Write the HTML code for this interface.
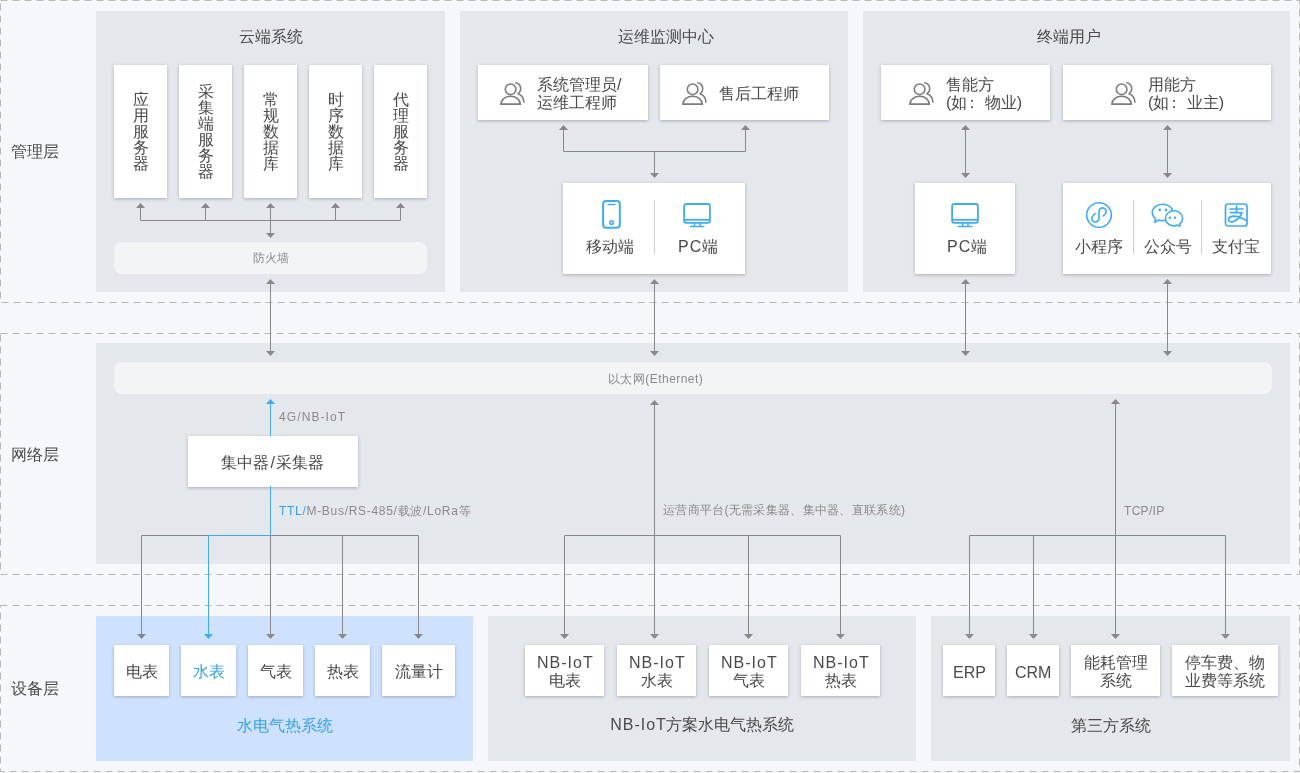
<!DOCTYPE html>
<html><head><meta charset="utf-8">
<style>
*{margin:0;padding:0;box-sizing:border-box}
html,body{width:1300px;height:773px;overflow:hidden;background:#f5f7fa}
body{position:relative;-webkit-font-smoothing:antialiased;font-family:"Liberation Sans",sans-serif;color:#4a4a4a}
.a{position:absolute}
.p{position:absolute;background:#e4e7eb}
.c{position:absolute;background:#fff;box-shadow:0 1px 3px rgba(70,80,120,0.38)}
.t{will-change:transform;position:absolute;font-size:16px;line-height:16px;white-space:nowrap;text-align:center}
.s{will-change:transform;position:absolute;font-size:12px;line-height:12px;white-space:nowrap;color:#8a8a8a}
.bar{position:absolute;background:#f2f4f6;border-radius:8px}
.ctr{display:flex;align-items:center;justify-content:center;text-align:center}
.v{will-change:transform;font-size:16px;line-height:16px;width:16px;position:relative;top:0px}
.h2{font-size:16px;line-height:18px;text-align:left}
.l{letter-spacing:1px;margin-right:-1px}
.dv{position:absolute;width:1px;background:#cfcfcf}
</style></head><body>
<!-- panels -->
<div class="p" style="left:96px;top:11px;width:349px;height:281px"></div>
<div class="p" style="left:460px;top:11px;width:388px;height:281px"></div>
<div class="p" style="left:863px;top:11px;width:427px;height:281px"></div>
<div class="p" style="left:96px;top:343px;width:1194px;height:221px"></div>
<div class="p" style="left:96px;top:616px;width:377px;height:145px;background:#cee2fd"></div>
<div class="p" style="left:488px;top:616px;width:428px;height:145px"></div>
<div class="p" style="left:931px;top:616px;width:359px;height:145px"></div>

<!-- layer labels -->
<div class="t" style="left:10px;top:144px;width:50px">管理层</div>
<div class="t" style="left:10px;top:447px;width:50px">网络层</div>
<div class="t" style="left:10px;top:681px;width:50px">设备层</div>

<!-- titles -->
<div class="t" style="left:231px;top:29px;width:80px">云端系统</div>
<div class="t" style="left:606px;top:29px;width:120px">运维监测中心</div>
<div class="t" style="left:1029px;top:29px;width:80px">终端用户</div>

<!-- cloud cards -->
<div class="c ctr" style="left:114px;top:65px;width:53px;height:133px"><div class="v">应用服务器</div></div>
<div class="c ctr" style="left:179px;top:65px;width:53px;height:133px"><div class="v">采集端服务器</div></div>
<div class="c ctr" style="left:244px;top:65px;width:53px;height:133px"><div class="v">常规数据库</div></div>
<div class="c ctr" style="left:309px;top:65px;width:53px;height:133px"><div class="v">时序数据库</div></div>
<div class="c ctr" style="left:374px;top:65px;width:53px;height:133px"><div class="v">代理服务器</div></div>
<div class="bar ctr" style="left:114px;top:242px;width:313px;height:32px"><span class="s" style="position:static">防火墙</span></div>

<!-- ops cards -->
<div class="c" style="left:478px;top:65px;width:170px;height:55px"></div>
<div class="c" style="left:660px;top:65px;width:169px;height:55px"></div>
<svg width="36" height="34" viewBox="0 0 36 34" style="position:absolute;left:494px;top:76px" fill="none" stroke="#7c7c7c" stroke-width="1.6">
<circle cx="16.6" cy="13.3" r="5.3"/>
<path d="M6.9 28.1 A9.7 7.8 0 0 1 26.3 28.1 Z"/>
<path d="M21.2 6.7 A5.9 5.9 0 0 1 23.7 17.7"/>
<path d="M23.7 17.8 Q29.6 19.2 29.9 26.6"/>
</svg>
<div class="t h2" style="left:537px;top:76px">系统管理员/<br>运维工程师</div>
<svg width="36" height="34" viewBox="0 0 36 34" style="position:absolute;left:676px;top:76px" fill="none" stroke="#7c7c7c" stroke-width="1.6">
<circle cx="16.6" cy="13.3" r="5.3"/>
<path d="M6.9 28.1 A9.7 7.8 0 0 1 26.3 28.1 Z"/>
<path d="M21.2 6.7 A5.9 5.9 0 0 1 23.7 17.7"/>
<path d="M23.7 17.8 Q29.6 19.2 29.9 26.6"/>
</svg>
<div class="t" style="left:719px;top:86px">售后工程师</div>
<div class="c" style="left:563px;top:183px;width:182px;height:91px"></div>
<div class="dv" style="left:654px;top:200px;height:54px"></div>
<svg width="32" height="38" viewBox="0 0 32 38" style="position:absolute;left:596px;top:196px" fill="none" stroke="#40abf2" stroke-width="2">
<rect x="7.1" y="4.9" width="16.7" height="26.8" rx="3"/>
<line x1="12.2" y1="8.5" x2="18.8" y2="8.5" stroke-width="1.5" stroke-linecap="round"/>
<circle cx="15.5" cy="26.5" r="1.8" stroke-width="1.5"/>
</svg>
<svg width="38" height="34" viewBox="0 0 38 34" style="position:absolute;left:678px;top:198px" fill="none" stroke="#40abf2" stroke-width="1.8">
<rect x="6.1" y="6" width="25.8" height="18.8" rx="2"/>
<line x1="6.1" y1="21.8" x2="31.9" y2="21.8"/>
<line x1="16.5" y1="24.8" x2="16.5" y2="28.3" stroke-width="1.5"/>
<line x1="22" y1="24.8" x2="22" y2="28.3" stroke-width="1.5"/>
<line x1="12.3" y1="28.5" x2="25.8" y2="28.5" stroke-width="1.5" stroke-linecap="round"/>
</svg>
<div class="t" style="left:586px;top:239px">移动端</div>
<div class="t" style="left:678px;top:239px"><span style="letter-spacing:1px">PC</span>端</div>

<!-- end users -->
<div class="c" style="left:881px;top:65px;width:169px;height:55px"></div>
<div class="c" style="left:1063px;top:65px;width:208px;height:55px"></div>
<svg width="36" height="34" viewBox="0 0 36 34" style="position:absolute;left:903px;top:76px" fill="none" stroke="#7c7c7c" stroke-width="1.6">
<circle cx="16.6" cy="13.3" r="5.3"/>
<path d="M6.9 28.1 A9.7 7.8 0 0 1 26.3 28.1 Z"/>
<path d="M21.2 6.7 A5.9 5.9 0 0 1 23.7 17.7"/>
<path d="M23.7 17.8 Q29.6 19.2 29.9 26.6"/>
</svg>
<div class="t h2" style="left:946px;top:76px">售能方<br>(如<span style="position:relative;left:-3px;margin-right:1.5px">：</span>物业)</div>
<svg width="36" height="34" viewBox="0 0 36 34" style="position:absolute;left:1105px;top:76px" fill="none" stroke="#7c7c7c" stroke-width="1.6">
<circle cx="16.6" cy="13.3" r="5.3"/>
<path d="M6.9 28.1 A9.7 7.8 0 0 1 26.3 28.1 Z"/>
<path d="M21.2 6.7 A5.9 5.9 0 0 1 23.7 17.7"/>
<path d="M23.7 17.8 Q29.6 19.2 29.9 26.6"/>
</svg>
<div class="t h2" style="left:1148px;top:76px">用能方<br>(如<span style="position:relative;left:-3px;margin-right:1.5px">：</span>业主)</div>
<div class="c" style="left:915px;top:183px;width:100px;height:91px"></div>
<svg width="38" height="34" viewBox="0 0 38 34" style="position:absolute;left:946px;top:198px" fill="none" stroke="#40abf2" stroke-width="1.8">
<rect x="6.1" y="6" width="25.8" height="18.8" rx="2"/>
<line x1="6.1" y1="21.8" x2="31.9" y2="21.8"/>
<line x1="16.5" y1="24.8" x2="16.5" y2="28.3" stroke-width="1.5"/>
<line x1="22" y1="24.8" x2="22" y2="28.3" stroke-width="1.5"/>
<line x1="12.3" y1="28.5" x2="25.8" y2="28.5" stroke-width="1.5" stroke-linecap="round"/>
</svg>
<div class="t" style="left:947px;top:239px"><span style="letter-spacing:1px">PC</span>端</div>
<div class="c" style="left:1063px;top:183px;width:208px;height:91px"></div>
<div class="dv" style="left:1133px;top:200px;height:54px"></div>
<div class="dv" style="left:1201px;top:200px;height:54px"></div>
<svg width="34" height="34" viewBox="0 0 34 34" style="position:absolute;left:1082px;top:198px" fill="none" stroke="#40abf2" stroke-width="1.6" stroke-linecap="round">
<circle cx="17" cy="17" r="12.3"/>
<path d="M13 15.6 L10.9 17.8 A3.6 3.6 0 1 0 17 20.6 V13.4 A3.6 3.6 0 1 1 23.2 16 L21.1 18"/>
</svg>
<svg width="38" height="34" viewBox="0 0 38 34" style="position:absolute;left:1148px;top:198px" fill="none" stroke="#40abf2" stroke-width="1.6" stroke-linejoin="round">
<path d="M24.6 12.9 C23.6 8.8 19.4 6.2 14.5 6.2 C8.9 6.2 4.3 9.9 4.3 14.4 C4.3 16.9 5.6 19.1 7.8 20.6 L6.6 24.2 L10.9 22 C12 22.4 13.3 22.6 14.5 22.6 C15.6 22.6 16.6 22.5 17.6 22.2"/>
<path d="M26 12.8 C30.8 12.8 34.6 16.2 34.6 20.4 C34.6 22.6 33.6 24.5 31.9 25.9 L31.9 28.2 L29.5 27.1 C28.4 27.5 27.2 27.9 26 27.9 C21.2 27.9 17.4 24.5 17.4 20.4 C17.4 16.2 21.2 12.8 26 12.8 Z"/>
<circle cx="11.7" cy="11.9" r="1.4" fill="#40abf2" stroke="none"/>
<circle cx="18" cy="11.9" r="1.4" fill="#40abf2" stroke="none"/>
<circle cx="21.8" cy="19.8" r="1.25" fill="#40abf2" stroke="none"/>
<circle cx="27" cy="19.8" r="1.25" fill="#40abf2" stroke="none"/>
</svg>
<svg width="36" height="34" viewBox="0 0 36 34" style="position:absolute;left:1218px;top:198px" fill="none" stroke="#40abf2" stroke-width="1.7" stroke-linecap="round">
<rect x="7.5" y="6" width="21.5" height="22" rx="2.5"/>
<line x1="18.5" y1="8" x2="18.5" y2="14.6"/>
<line x1="12" y1="11" x2="25" y2="11"/>
<line x1="12.4" y1="14.6" x2="24" y2="14.6"/>
<path d="M24 14.6 Q21.5 21.5 15 23.6 Q10.6 24.6 10.6 21.6 Q10.8 18.2 16 18.2 Q21 18.4 29 22.8" stroke-linecap="butt"/>
</svg>
<div class="t" style="left:1075px;top:239px">小程序</div>
<div class="t" style="left:1144px;top:239px">公众号</div>
<div class="t" style="left:1212px;top:239px">支付宝</div>

<!-- network -->
<div class="bar ctr" style="left:114px;top:362px;width:1158px;height:32px"></div>
<div class="s" style="left:608px;top:373px;letter-spacing:0.45px">以太网(Ethernet)</div>
<div class="s" style="left:279px;top:411px;letter-spacing:1.1px">4G/NB-IoT</div>
<div class="c ctr" style="left:188px;top:436px;width:170px;height:51px"><span class="t" style="position:relative;top:1px">集中器<span style="margin:0 1.5px">/</span>采集器</span></div>
<div class="s" style="left:279px;top:505px;letter-spacing:0.7px"><span style="color:#33a2ee">TTL/</span>M-Bus/RS-485/载波/LoRa等</div>
<div class="s" style="left:663px;top:504px;letter-spacing:0.3px">运营商平台(无需采集器、集中器、直联系统)</div>
<div class="s" style="left:1124px;top:505px;letter-spacing:0.3px">TCP/IP</div>

<!-- devices -->
<div class="c ctr" style="left:114px;top:645px;width:55px;height:51px"><span class="t" style="position:relative;top:1px">电表</span></div>
<div class="c ctr" style="left:181px;top:645px;width:55px;height:51px"><span class="t" style="position:relative;top:1px;color:#33a2ee">水表</span></div>
<div class="c ctr" style="left:248px;top:645px;width:55px;height:51px"><span class="t" style="position:relative;top:1px">气表</span></div>
<div class="c ctr" style="left:315px;top:645px;width:55px;height:51px"><span class="t" style="position:relative;top:1px">热表</span></div>
<div class="c ctr" style="left:382px;top:645px;width:73px;height:51px"><span class="t" style="position:relative;top:1px">流量计</span></div>
<div class="t" style="left:185px;top:718px;width:200px;color:#33a2ee">水电气热系统</div>

<div class="c ctr" style="left:525px;top:645px;width:79px;height:51px"><span class="t" style="position:relative;top:1px;line-height:18px"><span class="l">NB-IoT</span><br>电表</span></div>
<div class="c ctr" style="left:617px;top:645px;width:79px;height:51px"><span class="t" style="position:relative;top:1px;line-height:18px"><span class="l">NB-IoT</span><br>水表</span></div>
<div class="c ctr" style="left:709px;top:645px;width:79px;height:51px"><span class="t" style="position:relative;top:1px;line-height:18px"><span class="l">NB-IoT</span><br>气表</span></div>
<div class="c ctr" style="left:801px;top:645px;width:79px;height:51px"><span class="t" style="position:relative;top:1px;line-height:18px"><span class="l">NB-IoT</span><br>热表</span></div>
<div class="t" style="left:582px;top:717px;width:240px"><span class="l">NB-IoT</span>方案水电气热系统</div>

<div class="c ctr" style="left:943px;top:645px;width:52px;height:51px"><span class="t" style="position:relative;top:2px">ERP</span></div>
<div class="c ctr" style="left:1007px;top:645px;width:52px;height:51px"><span class="t" style="position:relative;top:2px">CRM</span></div>
<div class="c ctr" style="left:1071px;top:645px;width:89px;height:51px"><span class="t" style="position:relative;top:1px;line-height:18px">能耗管理<br>系统</span></div>
<div class="c ctr" style="left:1172px;top:645px;width:106px;height:51px"><span class="t" style="position:relative;top:1px;line-height:18px">停车费、物<br>业费等系统</span></div>
<div class="t" style="left:1011px;top:718px;width:200px">第三方系统</div>

<svg class="a" style="left:0;top:0" width="1300" height="773" viewBox="0 0 1300 773">
<rect x="0.5" y="0.5" width="1299" height="302" fill="none" stroke="#b8b8b8" stroke-width="1" stroke-dasharray="7 5"/>
<rect x="0.5" y="333.5" width="1299" height="241" fill="none" stroke="#b8b8b8" stroke-width="1" stroke-dasharray="7 5"/>
<rect x="0.5" y="605.5" width="1299" height="166" fill="none" stroke="#b8b8b8" stroke-width="1" stroke-dasharray="7 5"/>
<line x1="140.5" y1="207" x2="140.5" y2="220.5" stroke="#888888" stroke-width="1"/>
<polygon points="140.5,203 136.0,208 145.0,208" fill="#888888"/>
<line x1="205.5" y1="207" x2="205.5" y2="220.5" stroke="#888888" stroke-width="1"/>
<polygon points="205.5,203 201.0,208 210.0,208" fill="#888888"/>
<line x1="270.5" y1="207" x2="270.5" y2="220.5" stroke="#888888" stroke-width="1"/>
<polygon points="270.5,203 266.0,208 275.0,208" fill="#888888"/>
<line x1="335.5" y1="207" x2="335.5" y2="220.5" stroke="#888888" stroke-width="1"/>
<polygon points="335.5,203 331.0,208 340.0,208" fill="#888888"/>
<line x1="400.5" y1="207" x2="400.5" y2="220.5" stroke="#888888" stroke-width="1"/>
<polygon points="400.5,203 396.0,208 405.0,208" fill="#888888"/>
<line x1="140.5" y1="220.5" x2="400.5" y2="220.5" stroke="#888888" stroke-width="1"/>
<line x1="270.5" y1="220.5" x2="270.5" y2="234" stroke="#888888" stroke-width="1"/>
<polygon points="270.5,238 266.0,233 275.0,233" fill="#888888"/>
<line x1="270.5" y1="283" x2="270.5" y2="352" stroke="#888888" stroke-width="1"/>
<polygon points="270.5,279 266.0,284 275.0,284" fill="#888888"/>
<polygon points="270.5,356 266.0,351 275.0,351" fill="#888888"/>
<line x1="563.5" y1="129" x2="563.5" y2="151.5" stroke="#888888" stroke-width="1"/>
<polygon points="563.5,125 559.0,130 568.0,130" fill="#888888"/>
<line x1="745.5" y1="129" x2="745.5" y2="151.5" stroke="#888888" stroke-width="1"/>
<polygon points="745.5,125 741.0,130 750.0,130" fill="#888888"/>
<line x1="563.5" y1="151.5" x2="745.5" y2="151.5" stroke="#888888" stroke-width="1"/>
<line x1="654.5" y1="151.5" x2="654.5" y2="174" stroke="#888888" stroke-width="1"/>
<polygon points="654.5,178 650.0,173 659.0,173" fill="#888888"/>
<line x1="654.5" y1="283" x2="654.5" y2="352" stroke="#888888" stroke-width="1"/>
<polygon points="654.5,279 650.0,284 659.0,284" fill="#888888"/>
<polygon points="654.5,356 650.0,351 659.0,351" fill="#888888"/>
<line x1="965.5" y1="129" x2="965.5" y2="174" stroke="#888888" stroke-width="1"/>
<polygon points="965.5,125 961.0,130 970.0,130" fill="#888888"/>
<polygon points="965.5,178 961.0,173 970.0,173" fill="#888888"/>
<line x1="1167.5" y1="129" x2="1167.5" y2="174" stroke="#888888" stroke-width="1"/>
<polygon points="1167.5,125 1163.0,130 1172.0,130" fill="#888888"/>
<polygon points="1167.5,178 1163.0,173 1172.0,173" fill="#888888"/>
<line x1="965.5" y1="283" x2="965.5" y2="352" stroke="#888888" stroke-width="1"/>
<polygon points="965.5,279 961.0,284 970.0,284" fill="#888888"/>
<polygon points="965.5,356 961.0,351 970.0,351" fill="#888888"/>
<line x1="1167.5" y1="283" x2="1167.5" y2="352" stroke="#888888" stroke-width="1"/>
<polygon points="1167.5,279 1163.0,284 1172.0,284" fill="#888888"/>
<polygon points="1167.5,356 1163.0,351 1172.0,351" fill="#888888"/>
<line x1="270.5" y1="403" x2="270.5" y2="436" stroke="#40abf2" stroke-width="1"/>
<polygon points="270.5,399 266.0,404 275.0,404" fill="#40abf2"/>
<line x1="270.5" y1="486" x2="270.5" y2="535.5" stroke="#40abf2" stroke-width="1"/>
<line x1="208.5" y1="535.5" x2="270.5" y2="535.5" stroke="#40abf2" stroke-width="1"/>
<line x1="141.5" y1="535.5" x2="208.5" y2="535.5" stroke="#888888" stroke-width="1"/>
<line x1="270.5" y1="535.5" x2="418.5" y2="535.5" stroke="#888888" stroke-width="1"/>
<line x1="141.5" y1="535.5" x2="141.5" y2="635" stroke="#888888" stroke-width="1"/>
<polygon points="141.5,639 137.0,634 146.0,634" fill="#888888"/>
<line x1="270.5" y1="535.5" x2="270.5" y2="635" stroke="#888888" stroke-width="1"/>
<polygon points="270.5,639 266.0,634 275.0,634" fill="#888888"/>
<line x1="342.5" y1="535.5" x2="342.5" y2="635" stroke="#888888" stroke-width="1"/>
<polygon points="342.5,639 338.0,634 347.0,634" fill="#888888"/>
<line x1="418.5" y1="535.5" x2="418.5" y2="635" stroke="#888888" stroke-width="1"/>
<polygon points="418.5,639 414.0,634 423.0,634" fill="#888888"/>
<line x1="208.5" y1="535.5" x2="208.5" y2="635" stroke="#40abf2" stroke-width="1"/>
<polygon points="208.5,639 204.0,634 213.0,634" fill="#40abf2"/>
<line x1="654.5" y1="404" x2="654.5" y2="535.5" stroke="#888888" stroke-width="1"/>
<polygon points="654.5,400 650.0,405 659.0,405" fill="#888888"/>
<line x1="564.5" y1="535.5" x2="840.5" y2="535.5" stroke="#888888" stroke-width="1"/>
<line x1="564.5" y1="535.5" x2="564.5" y2="635" stroke="#888888" stroke-width="1"/>
<polygon points="564.5,639 560.0,634 569.0,634" fill="#888888"/>
<line x1="654.5" y1="535.5" x2="654.5" y2="635" stroke="#888888" stroke-width="1"/>
<polygon points="654.5,639 650.0,634 659.0,634" fill="#888888"/>
<line x1="748.5" y1="535.5" x2="748.5" y2="635" stroke="#888888" stroke-width="1"/>
<polygon points="748.5,639 744.0,634 753.0,634" fill="#888888"/>
<line x1="840.5" y1="535.5" x2="840.5" y2="635" stroke="#888888" stroke-width="1"/>
<polygon points="840.5,639 836.0,634 845.0,634" fill="#888888"/>
<line x1="1115.5" y1="403" x2="1115.5" y2="535.5" stroke="#888888" stroke-width="1"/>
<polygon points="1115.5,399 1111.0,404 1120.0,404" fill="#888888"/>
<line x1="969.5" y1="535.5" x2="1225.5" y2="535.5" stroke="#888888" stroke-width="1"/>
<line x1="969.5" y1="535.5" x2="969.5" y2="635" stroke="#888888" stroke-width="1"/>
<polygon points="969.5,639 965.0,634 974.0,634" fill="#888888"/>
<line x1="1033.5" y1="535.5" x2="1033.5" y2="635" stroke="#888888" stroke-width="1"/>
<polygon points="1033.5,639 1029.0,634 1038.0,634" fill="#888888"/>
<line x1="1115.5" y1="535.5" x2="1115.5" y2="635" stroke="#888888" stroke-width="1"/>
<polygon points="1115.5,639 1111.0,634 1120.0,634" fill="#888888"/>
<line x1="1225.5" y1="535.5" x2="1225.5" y2="635" stroke="#888888" stroke-width="1"/>
<polygon points="1225.5,639 1221.0,634 1230.0,634" fill="#888888"/>
</svg>
</body></html>
